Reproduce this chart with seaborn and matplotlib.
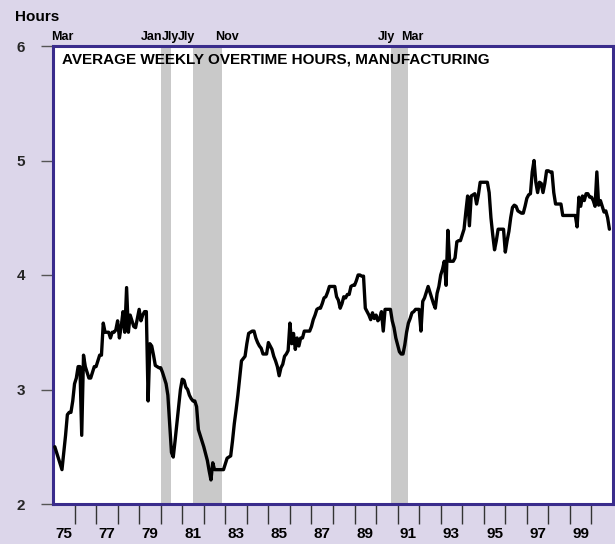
import numpy as np
import pandas as pd
import matplotlib
matplotlib.use("Agg")
import matplotlib.pyplot as plt
import seaborn as sns

# ---------------- data (monthly) ----------------
start_month = "1975-02"
v1975 = [2.50, 2.45, 2.40, 2.35, 2.30, 2.45, 2.60, 2.78, 2.80, 2.80, 2.90]
v1976 = [3.05, 3.10, 3.20, 3.20, 2.60, 3.30, 3.20, 3.15, 3.10, 3.10, 3.15, 3.20]
v1977 = [3.20, 3.25, 3.30, 3.30, 3.58, 3.50, 3.50, 3.50, 3.45, 3.50, 3.50, 3.52]
v1978 = [3.60, 3.45, 3.55, 3.68, 3.50, 3.89, 3.50, 3.65, 3.60, 3.55, 3.54, 3.62]
v1979 = [3.70, 3.60, 3.65, 3.68, 3.68, 2.90, 3.40, 3.38, 3.30, 3.21, 3.20, 3.19]
v1980 = [3.19, 3.15, 3.10, 3.05, 2.95, 2.70, 2.45, 2.41, 2.55, 2.70, 2.85, 3.00]
v1981 = [3.09, 3.08, 3.02, 3.00, 2.95, 2.92, 2.90, 2.90, 2.85, 2.65, 2.60, 2.55]
v1982 = [2.50, 2.44, 2.38, 2.29, 2.21, 2.36, 2.30, 2.30, 2.30, 2.30, 2.30, 2.30]
v1983 = [2.35, 2.40, 2.41, 2.42, 2.55, 2.70, 2.82, 2.95, 3.10, 3.25, 3.27, 3.29]
v1984 = [3.40, 3.49, 3.50, 3.51, 3.51, 3.45, 3.41, 3.38, 3.36, 3.31, 3.31, 3.31]
v1985 = [3.41, 3.38, 3.35, 3.29, 3.25, 3.20, 3.12, 3.19, 3.22, 3.29, 3.31, 3.34]
v1986 = [3.58, 3.40, 3.49, 3.35, 3.45, 3.38, 3.45, 3.45, 3.51, 3.51, 3.51, 3.51]
v1987 = [3.55, 3.61, 3.65, 3.70, 3.71, 3.71, 3.75, 3.80, 3.81, 3.85, 3.90, 3.90]
v1988 = [3.90, 3.90, 3.81, 3.78, 3.71, 3.75, 3.81, 3.80, 3.83, 3.83, 3.90, 3.91]
v1989 = [3.91, 3.95, 4.00, 4.00, 3.99, 3.99, 3.71, 3.68, 3.65, 3.61, 3.67, 3.62]
v1990 = [3.65, 3.60, 3.62, 3.68, 3.51, 3.70, 3.70, 3.70, 3.70, 3.60, 3.54, 3.45]
v1991 = [3.39, 3.33, 3.31, 3.31, 3.39, 3.50, 3.58, 3.62, 3.67, 3.68, 3.70, 3.70]
v1992 = [3.70, 3.51, 3.77, 3.80, 3.85, 3.90, 3.85, 3.80, 3.75, 3.71, 3.84, 3.90]
v1993 = [4.00, 4.05, 4.12, 3.91, 4.39, 4.12, 4.12, 4.12, 4.15, 4.29, 4.30, 4.30]
v1994 = [4.35, 4.40, 4.55, 4.69, 4.43, 4.69, 4.70, 4.71, 4.62, 4.70, 4.81, 4.81]
v1995 = [4.81, 4.81, 4.81, 4.72, 4.50, 4.35, 4.22, 4.30, 4.40, 4.40, 4.40, 4.40]
v1996 = [4.20, 4.30, 4.38, 4.50, 4.59, 4.61, 4.60, 4.56, 4.55, 4.54, 4.54, 4.60]
v1997 = [4.67, 4.70, 4.71, 4.90, 5.00, 4.81, 4.72, 4.81, 4.80, 4.72, 4.80, 4.91]
v1998 = [4.91, 4.90, 4.90, 4.72, 4.62, 4.62, 4.62, 4.62, 4.52, 4.52, 4.52, 4.52]
v1999 = [4.52, 4.52, 4.52, 4.52, 4.42, 4.68, 4.60, 4.69, 4.65, 4.71, 4.71, 4.68]
v2000 = [4.68, 4.65, 4.60, 4.90, 4.61, 4.65, 4.60, 4.55, 4.56, 4.50, 4.40]

# recession shading (start, end) as seen on the chart, and labels
rec_start = [1980.0, 1981.5, 1990.67]
rec_end = [1980.5, 1982.83, 1991.5]
rec_labels = ["Mar", "Jan", "Jly", "Jly", "Nov", "Jly", "Mar"]
rec_label_years = [1975.42, 1979.60, 1980.47, 1981.22, 1983.10, 1990.48, 1991.69]

y_ticks = [2, 3, 4, 5, 6]
x_tick_years = list(range(1976, 2001))
x_label_years = list(range(1975, 2000, 2))
x_labels = ["75", "77", "79", "81", "83", "85", "87", "89", "91", "93", "95", "97", "99"]

title = "AVERAGE WEEKLY OVERTIME HOURS, MANUFACTURING"

# ---------------- build frame ----------------
values = (v1975 + v1976 + v1977 + v1978 + v1979 + v1980 + v1981 + v1982 + v1983 +
          v1984 + v1985 + v1986 + v1987 + v1988 + v1989 + v1990 + v1991 + v1992 +
          v1993 + v1994 + v1995 + v1996 + v1997 + v1998 + v1999 + v2000)
dates = pd.date_range(start_month, periods=len(values), freq="MS")
df = pd.DataFrame({"date": dates, "hours": values})
df["t"] = df["date"].dt.year + (df["date"].dt.month - 1) / 12.0

# ---------------- style ----------------
sns.set_theme(style="white")
BG = "#dcd6ea"
SPINE = "#3a2c8c"
plt.rcParams["font.family"] = ["Liberation Sans Narrow", "Liberation Sans", "DejaVu Sans"]
plt.rcParams["font.weight"] = "bold"

PX = 72.0 / 100.0  # points per pixel at 100 dpi

fig = plt.figure(figsize=(6.15, 5.44), dpi=100, facecolor=BG)
W, H = 615, 544
L, R, T, B = 53, 613, 46, 504
ax = fig.add_axes([L / W, 1 - B / H, (R - L) / W, (B - T) / H])
ax.set_facecolor("white")

for s, e in zip(rec_start, rec_end):
    ax.axvspan(s, e, color="#c9c9c9", lw=0, zorder=1)

sns.lineplot(data=df, x="t", y="hours", ax=ax, color="black", lw=2.4,
             zorder=3, estimator=None)

ax.set_xlim(1975, 2001)
ax.set_ylim(2, 6)
ax.set_xlabel("")
ax.set_ylabel("")

for sp in ax.spines.values():
    sp.set_color(SPINE)
    sp.set_linewidth(2.2)
    sp.set_visible(True)

ax.set_yticks(y_ticks)
ax.set_yticklabels([str(v) for v in y_ticks], fontsize=11, fontweight="bold")
ax.tick_params(axis="y", direction="out", length=12 * PX, width=1.0, color="#555555",
               pad=16 * PX, left=True)
ax.set_xticks(x_tick_years)
ax.set_xticklabels([])
ax.tick_params(axis="x", direction="out", length=20 * PX, width=1.0, color="#333333",
               bottom=True, pad=2)
for yr, lab in zip(x_label_years, x_labels):
    ax.annotate(lab, xy=(yr + 0.5, 0), xycoords=("data", "axes fraction"),
                xytext=(0, -23 * PX), textcoords="offset points", ha="center",
                va="top", fontsize=11, fontweight="bold", color="black",
                annotation_clip=False)

for yr, lab in zip(rec_label_years, rec_labels):
    ax.annotate(lab, xy=(yr, 1), xycoords=("data", "axes fraction"),
                xytext=(0, 3 * PX), textcoords="offset points", ha="center", va="bottom",
                fontsize=9, fontweight="bold", color="black", annotation_clip=False)

ax.text(0.016, 0.985, title, transform=ax.transAxes, ha="left", va="top",
        fontsize=11, fontweight="bold", color="black")

fig.text(15 / W, 1 - 10 / H, "Hours", ha="left", va="top", fontsize=11,
         fontweight="bold", color="black")

fig.savefig("out.png", dpi=100, facecolor=BG)
